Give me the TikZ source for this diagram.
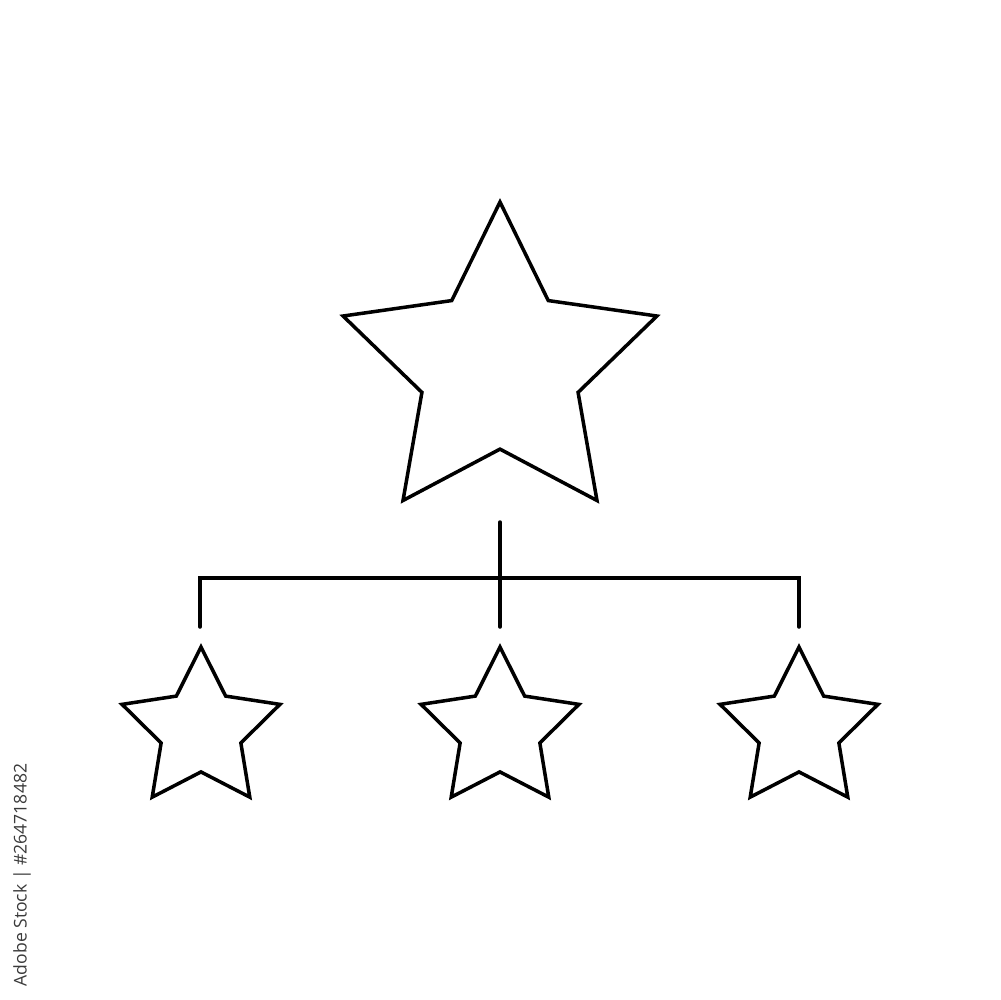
\documentclass[tikz,border=0pt]{standalone}
\usepackage{fontspec}
\newfontfamily\stockfont{Open Sans}
\usetikzlibrary{shapes.geometric}
\definecolor{stockgray}{HTML}{3A3A3A}
\tikzset{
  starbig/.style={star, star points=5, star point ratio=2.01, inner sep=0pt, outer sep=0pt,
    minimum size=33mm, draw=black, line width=1pt},
  starsmall/.style={star, star points=5, star point ratio=1.98, inner sep=0pt, outer sep=0pt,
    minimum size=16.6mm, draw=black, line width=1pt},
  wire/.style={draw=black, line width=1pt, line cap=round}
}
\begin{document}
\begin{tikzpicture}[x=0.1mm, y=-0.1mm]
  \useasboundingbox (0,0) rectangle (1000,1000);
  \node[starbig] (top) at (500,367) {};
  \node[starsmall] (s1) at (201,730) {};
  \node[starsmall] (s2) at (500,730) {};
  \node[starsmall] (s3) at (799,730) {};
  \coordinate (t0) at (500,522);
  \coordinate (c1) at (200,578);
  \coordinate (c3) at (799,578);
  \coordinate (d1) at (200,627);
  \coordinate (d2) at (500,627);
  \coordinate (d3) at (799,627);
  \draw[wire] (t0) -- (d2);
  \draw[wire] (d1) -- (c1) -- (c3) -- (d3);
  \node[rotate=90, text=stockgray, inner sep=0pt, font=\stockfont\fontsize{5}{5}\selectfont] (wm) at (22,875) {Adobe Stock | \#264718482};
\end{tikzpicture}
\end{document}
